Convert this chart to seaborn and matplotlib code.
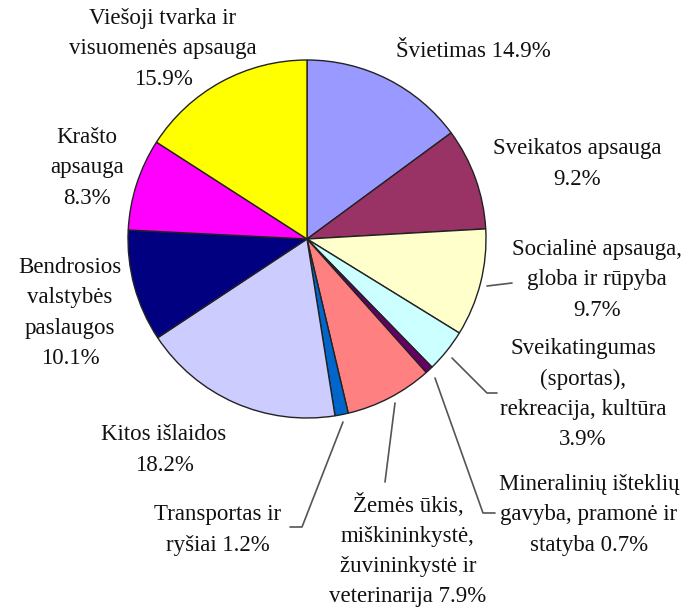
import matplotlib
matplotlib.use("Agg")
import matplotlib.pyplot as plt
import seaborn as sns

categories = [
    "Švietimas", "Sveikatos apsauga", "Socialinė apsauga, globa ir rūpyba",
    "Sveikatingumas (sportas), rekreacija, kultūra",
    "Mineralinių išteklių gavyba, pramonė ir statyba",
    "Žemės ūkis, miškininkystė, žuvininkystė ir veterinarija",
    "Transportas ir ryšiai", "Kitos išlaidos", "Bendrosios valstybės paslaugos",
    "Krašto apsauga", "Viešoji tvarka ir visuomenės apsauga",
]
values = [14.9, 9.2, 9.7, 3.9, 0.7, 7.9, 1.2, 18.2, 10.1, 8.3, 15.9]
colors = ["#9999FF", "#993366", "#FFFFCC", "#CCFFFF", "#660066", "#FF8080",
          "#0066CC", "#CCCCFF", "#000080", "#FF00FF", "#FFFF00"]
label_texts = [
    "Švietimas 14.9%",
    "Sveikatos apsauga\n9.2%",
    "Socialinė apsauga,\ngloba ir rūpyba\n9.7%",
    "Sveikatingumas\n(sportas),\nrekreacija, kultūra\n3.9%",
    "Mineralinių išteklių\ngavyba, pramonė ir\nstatyba 0.7%",
    "Žemės ūkis,\nmiškininkystė,\nžuvininkystė ir\nveterinarija 7.9%",
    "Transportas ir\nryšiai 1.2%",
    "Kitos išlaidos\n18.2%",
    "Bendrosios\nvalstybės\npaslaugos\n10.1%",
    "Krašto\napsauga\n8.3%",
    "Viešoji tvarka ir\nvisuomenės apsauga\n15.9%",
]

sns.set_theme(style="white")
plt.rcParams['font.family'] = ['Liberation Serif', 'DejaVu Serif']

W, H = 687, 610
CX, CY, R = 307, 239, 179
fig = plt.figure(figsize=(W / 100, H / 100), dpi=100)
ax = fig.add_axes([0, 0, 1, 1])

def px(x, y):
    return ((x - CX) / R, (CY - y) / R)

ax.pie(values, colors=colors, startangle=90, counterclock=False,
       wedgeprops=dict(edgecolor="#222222", linewidth=1.0))
ax.set_xlim(-CX / R, (W - CX) / R)
ax.set_ylim(-(H - CY) / R, CY / R)
ax.set_aspect("equal")
ax.axis("off")

# label centres (pixel positions)
label_pos = [
    (473, 52), (577, 164), (597, 280), (583, 394), (589, 515),
    (408, 550), (218, 530), (164, 450), (70, 313), (87, 168), (163, 49),
]
for t, (x, y) in zip(label_texts, label_pos):
    ax.text(*px(x, y), t, ha="center", va="center", fontsize=16.5,
            color="#111111", linespacing=1.58)

# leader lines
leaders = [
    [(487, 286), (512, 283)],
    [(452, 358), (487, 393), (497, 393)],
    [(435, 378), (483, 513), (495, 513)],
    [(395, 403), (385, 482)],
    [(343, 422), (302, 527), (290, 527)],
]
for pts in leaders:
    xs, ys = zip(*[px(a, b) for a, b in pts])
    ax.plot(xs, ys, color="#555555", linewidth=1.2)

fig.savefig("out.png", dpi=100)
